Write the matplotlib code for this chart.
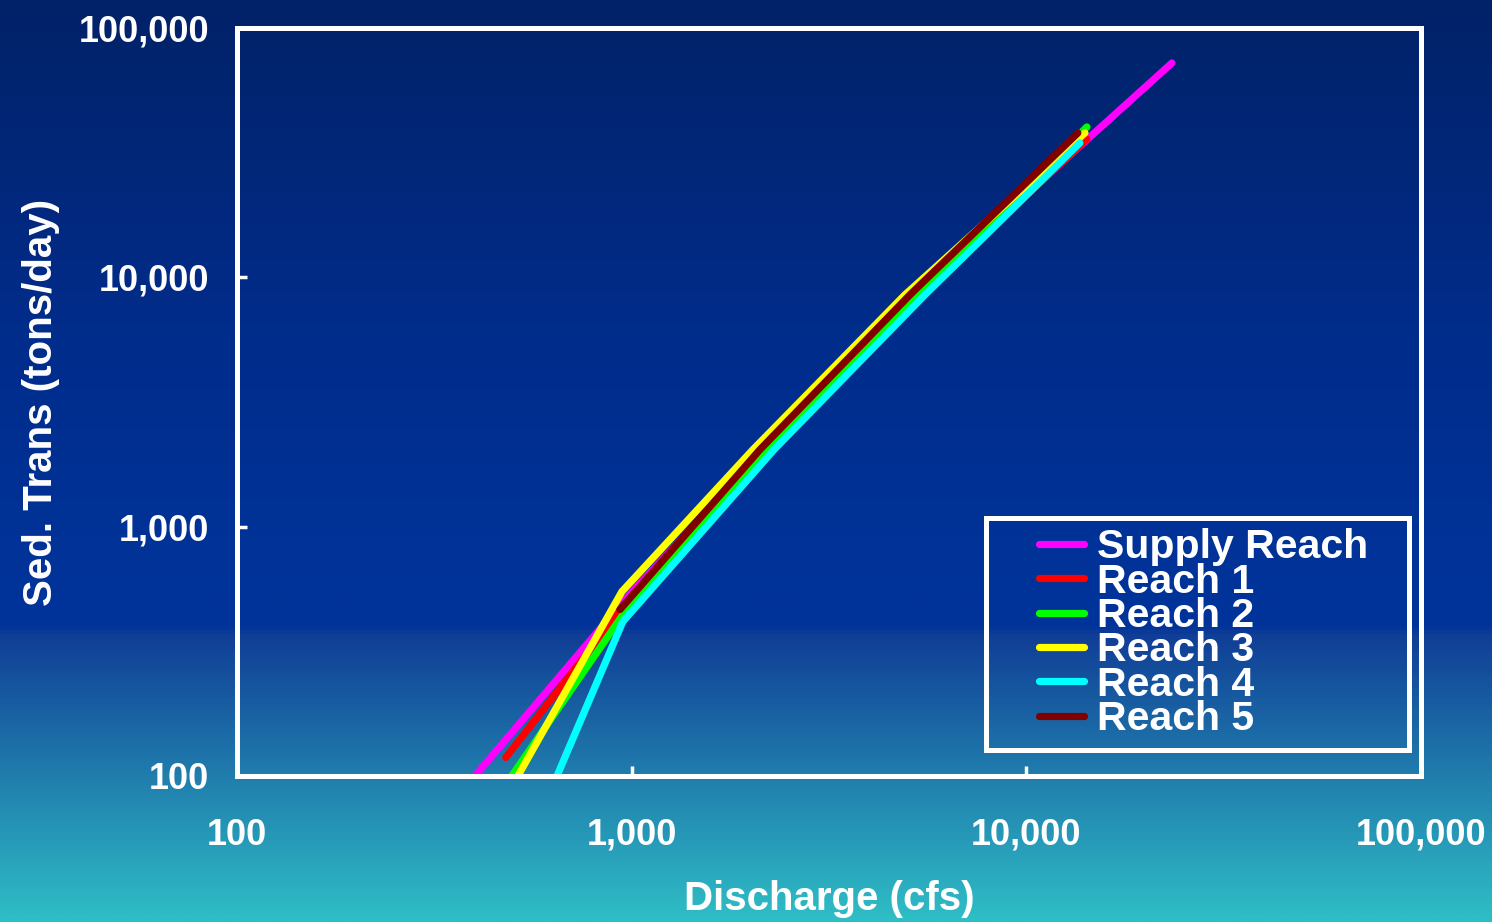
import numpy as np
import matplotlib.pyplot as plt
from matplotlib.colors import LinearSegmentedColormap
from matplotlib.patches import Rectangle
from matplotlib.ticker import FixedLocator, FuncFormatter, NullLocator

plt.rcParams['font.family'] = ['Liberation Sans', 'DejaVu Sans']
plt.rcParams['font.weight'] = 'bold'

# Sediment rating curves, discharge (cfs) vs transport (tons/day)
supply_q = [401, 962, 2176, 5283, 14490, 23390]
supply_s = [100, 510, 2035, 8511, 36550, 72400]

reach1_q = [480, 962, 2202, 5376, 14240]
reach1_s = [118.6, 487, 2035, 8511, 35890]

reach2_q = [497, 962, 2214, 5376, 14240]
reach2_s = [100, 456, 2035, 8511, 40100]

reach3_q = [515, 945, 2029, 4926, 14080]
reach3_s = [100, 549, 2035, 8511, 37950]

reach4_q = [647, 950, 2294, 5535, 13670]
reach4_s = [100, 416, 2035, 8511, 34600]

reach5_q = [934, 2113, 5071, 13510]
reach5_s = [465, 2035, 8511, 37950]

series = [
    ('Supply Reach', supply_q, supply_s, '#ff00ff'),
    ('Reach 1', reach1_q, reach1_s, '#ff0000'),
    ('Reach 2', reach2_q, reach2_s, '#00ff00'),
    ('Reach 3', reach3_q, reach3_s, '#ffff00'),
    ('Reach 4', reach4_q, reach4_s, '#00ffff'),
    ('Reach 5', reach5_q, reach5_s, '#800000'),
]

x_ticks = [100, 1000, 10000, 100000]
y_ticks = [100, 1000, 10000, 100000]

fig = plt.figure(figsize=(14.92, 9.22), dpi=100)

# vertical background gradient, navy on top fading to teal
bg = fig.add_axes([0, 0, 1, 1], zorder=-10)
stops = [
    (0.0, (2/255, 34/255, 104/255)),
    (0.35, (1/255, 44/255, 138/255)),
    (0.62, (0/255, 51/255, 153/255)),
    (0.68, (0/255, 51/255, 153/255)),
    (0.69, (16/255, 62/255, 150/255)),
    (0.85, (33/255, 128/255, 174/255)),
    (1.0, (47/255, 190/255, 198/255)),
]
cmap = LinearSegmentedColormap.from_list('bg', stops)
grad = np.linspace(0, 1, 922).reshape(-1, 1)
bg.imshow(grad, aspect='auto', cmap=cmap, extent=[0, 1, 1, 0])
bg.set_axis_off()

ax = fig.add_axes([0.1588, 0.1584, 0.7936, 0.8112])
ax.patch.set_alpha(0)

for name, q, s, c in series:
    ax.plot(q, s, color=c, lw=5.2, solid_capstyle='round', solid_joinstyle='round', label=name)

ax.set_xscale('log')
ax.set_yscale('log')
ax.set_xlim(100, 100000)
ax.set_ylim(100, 100000)

fmt = FuncFormatter(lambda v, _: f'{v:,.0f}')
for axis, ticks in ((ax.xaxis, x_ticks), (ax.yaxis, y_ticks)):
    axis.set_major_locator(FixedLocator(ticks))
    axis.set_minor_locator(NullLocator())
    axis.set_major_formatter(fmt)

for sp in ax.spines.values():
    sp.set_color('white')
    sp.set_linewidth(3.6)

ax.tick_params(axis='both', which='major', direction='in', length=7, width=2.5,
               color='white', labelcolor='white', labelsize=26)
ax.tick_params(axis='x', pad=30)
ax.tick_params(axis='y', pad=20)

ax.set_xlabel('Discharge (cfs)', color='white', fontsize=29, fontweight='bold', labelpad=20)
ax.set_ylabel('Sed. Trans (tons/day)', color='white', fontsize=29, fontweight='bold', labelpad=13)

# legend box with a white frame
frame = Rectangle((0.633, 0.035), 0.357, 0.31, transform=ax.transAxes,
                  facecolor='none', edgecolor='white', lw=3.6, zorder=5)
ax.add_patch(frame)
leg = ax.legend(loc='upper left', bbox_to_anchor=(0.677, 0.331), frameon=False,
                fontsize=29.5, handlelength=1.12, handletextpad=0.3,
                labelspacing=-0.09, borderpad=0, borderaxespad=0)
for t in leg.get_texts():
    t.set_color('white')
    t.set_fontweight('bold')

fig.savefig('out.png', dpi=100)
